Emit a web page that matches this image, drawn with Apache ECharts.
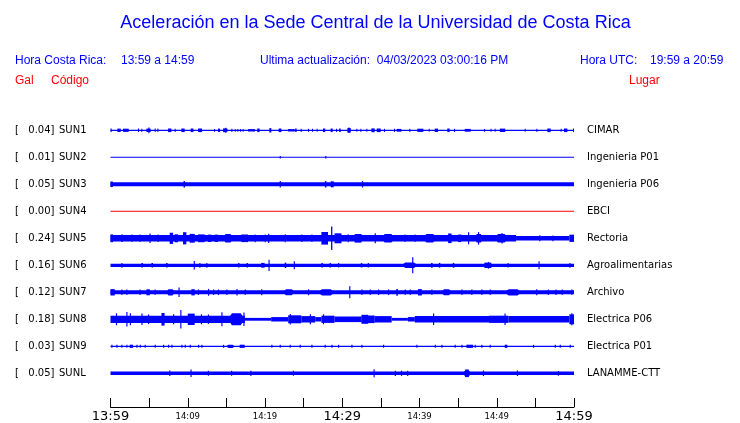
<!DOCTYPE html>
<html>
<head>
<meta charset="utf-8">
<script src="https://cdn.jsdelivr.net/npm/echarts@6/dist/echarts.min.js"></script>
<style>html,body{margin:0;padding:0;background:#fff}#c{width:740px;height:423px}</style>
</head>
<body>
<div id="c"></div>
<script>
// ---------------- data ----------------
const codes = ['SUN1','SUN2','SUN3','SUN4','SUN5','SUN6','SUN7','SUN8','SUN9','SUNL'];
const gals = ['0.04','0.01','0.05','0.00','0.24','0.16','0.12','0.18','0.03','0.05'];
const places = ['CIMAR','Ingenieria P01','Ingenieria P06','EBCI','Rectoria','Agroalimentarias','Archivo','Electrica P06','Electrica P01','LANAMME-CTT'];
const tickLabels = ['13:59','','14:09','','14:19','','14:29','','14:39','','14:49','','14:59'];
const titleText = 'Aceleración en la Sede Central de la Universidad de Costa Rica';
const headerLocal = ['Hora Costa Rica:', '13:59 a 14:59'];
const headerUpdate = 'Ultima actualización:  04/03/2023 03:00:16 PM';
const headerUtc = ['Hora UTC:', '19:59 a 20:59'];

// background noise band of each trace: [startMinute, endMinute, halfAmplitude]
const sun1Band = [[0,60,0.6]];
const sun2Band = [[0,60,0.5]];
const sun3Band = [[0,60,2.0]];
const sun4Band = [[0,60,0.5]];
const sun5Band = [[0,52.5,3.2],[52.5,59.4,2.3],[59.4,60,3.6]];
const sun6Band = [[0,60,1.6]];
const sun7Band = [[0,60,2.0]];
const sun8Band = [[0,17.4,3.6],[17.4,20.8,1.4],[20.8,23.0,2.2],[23.0,24.7,4.0],[24.7,26.5,3.2],[26.5,27.3,2.2],[27.3,29.0,3.6],[29.0,32.5,2.8],[32.5,34.2,3.8],[34.2,36.4,3.2],[36.4,38.5,1.4],[38.5,39.4,2.2],[39.4,49.0,3.2],[49.0,51.5,3.6],[51.5,59.4,3.2],[59.4,60,5.0]];
const sun9Band = [[0,60,0.6]];
const sunLBand = [[0,60,1.8]];

// bursts / spikes on top of the band: [startMinute, endMinute, halfAmplitude]
const sun1Bursts = [[0,0.15,1.8],[0.89,1.32,1.7],[1.62,2.36,1.6],[3.56,3.7,1.8],[3.99,4.12,1.6],[4.64,5.2,1.7],[4.9,5.05,2.9],[5.72,5.85,1.8],[6.07,6.2,1.8],[7.45,7.88,1.8],[8.3,8.43,1.6],[9.17,9.6,1.8],[10.38,10.73,1.8],[11.33,11.85,1.8],[13.4,13.53,1.4],[13.92,14.18,1.7],[14.57,15.13,1.9],[14.85,14.98,2.5],[15.65,15.78,1.6],[16.08,16.2,1.4],[16.42,16.55,1.4],[16.77,16.9,1.4],[17.11,17.24,1.4],[17.8,18.7,1.2],[19.0,19.3,1.8],[20.56,20.82,2.2],[21.77,22.12,1.8],[22.98,23.84,1.2],[23.9,24.1,1.7],[24.62,24.75,1.6],[25.56,25.7,1.5],[26.08,26.2,1.5],[26.69,26.82,1.5],[27.5,27.8,1.8],[28.5,28.76,1.8],[29.2,29.33,1.6],[29.6,29.8,1.7],[30.66,31.1,2.3],[30.8,30.95,2.8],[31.83,31.96,1.5],[32.35,32.48,1.6],[33.12,33.25,1.5],[33.77,34.2,1.9],[34.46,34.98,1.8],[35.4,35.53,1.6],[36.7,36.83,1.6],[37.05,37.65,1.4],[38.68,38.8,1.6],[39.72,40.5,1.6],[41.19,41.32,1.5],[41.97,42.4,1.7],[43.6,43.9,1.8],[44.47,44.6,1.6],[45.85,46.63,1.4],[48.35,48.48,1.4],[49.2,49.33,1.5],[49.73,49.86,1.5],[50.4,51.1,1.7],[53.62,53.75,1.5],[55.13,55.26,1.6],[56.55,56.98,1.8],[58.27,58.4,1.5],[58.7,59.14,1.8],[59.87,60,1.7]];
const sun2Bursts = [[21.9,22.05,1.2],[27.8,27.95,1.2]];
const sun3Bursts = [[0,0.3,2.8],[9.45,9.65,3.2],[21.9,22.05,3.2],[27.75,27.95,3.2],[28.5,28.9,3.0],[32.55,32.7,3.2]];
const sun4Bursts = [];
const sun5Bursts = [[0,0.33,3.9],[1.4,1.6,3.7],[2.7,2.85,3.7],[3.75,3.9,3.7],[5.05,5.2,4.8],[6.1,6.25,3.7],[7.66,8.1,5.6],[8.3,8.74,4.0],[9.39,9.82,6.1],[10.25,10.9,4.4],[11.33,12.2,3.9],[12.62,13.05,3.7],[13.5,13.92,3.7],[14.56,15.86,4.2],[16.94,17.8,3.8],[18.66,18.8,3.9],[19.96,20.1,3.9],[20.4,20.55,4.6],[22.55,22.7,4.0],[24.7,24.85,3.8],[26.0,26.15,3.8],[27.3,28.16,6.3],[28.55,28.72,11.7],[29.0,29.9,5.0],[30.7,30.85,4.0],[31.6,32.5,4.3],[34.2,34.35,5.0],[35.06,36.8,4.2],[38.06,38.2,3.8],[39.37,39.5,3.8],[40.45,42.2,4.2],[43.7,44.15,4.8],[45.0,45.4,3.8],[46.28,46.43,6.0],[47.14,48.2,4.3],[47.57,47.72,6.3],[49.73,51.45,4.2],[50.6,50.75,5.3],[55.5,55.65,3.0],[57.2,57.35,2.9]];
const sun6Bursts = [[1.4,1.55,2.4],[4.0,4.2,2.2],[5.3,5.5,2.2],[7.2,7.4,2.2],[10.77,10.92,4.3],[11.5,11.65,2.4],[12.4,12.55,2.4],[16.5,16.7,2.2],[17.6,17.8,2.2],[19.5,19.95,2.4],[20.45,20.6,5.6],[22.55,22.75,2.7],[23.72,23.87,4.0],[27.3,27.5,2.2],[28.35,28.55,2.2],[29.45,29.6,2.2],[32.4,32.6,2.2],[33.3,33.45,2.2],[37.65,39.8,2.8],[39.05,39.2,8.0],[41.5,41.7,2.4],[42.5,42.7,2.4],[44.3,44.5,2.4],[48.4,49.3,2.7],[48.85,49.0,3.4],[51.4,51.55,2.2],[55.4,55.55,4.0],[59.4,59.55,2.4]];
const sun7Bursts = [[0,0.55,3.2],[1.4,1.55,2.8],[2.05,2.2,2.8],[3.75,3.9,2.8],[4.65,5.1,3.0],[5.7,5.85,2.8],[7.23,8.3,3.1],[8.8,8.95,4.8],[10.47,10.9,3.1],[11.3,11.45,2.8],[12.62,12.77,3.4],[13.27,13.42,2.8],[13.9,14.05,2.8],[14.99,15.14,2.8],[16.3,16.45,3.2],[17.37,17.52,2.8],[19.5,19.65,3.0],[22.33,23.84,3.0],[25.56,25.71,3.0],[26.86,29.02,3.1],[30.9,31.05,6.0],[32.47,32.62,2.8],[33.55,33.7,2.8],[34.63,34.78,2.8],[35.92,36.07,2.8],[37.0,37.2,3.4],[38.08,38.23,2.8],[38.73,38.88,2.8],[39.8,40.3,3.2],[41.53,41.68,2.8],[42.83,44.16,3.0],[45.42,45.57,2.8],[46.7,46.85,2.8],[48.0,48.15,2.8],[49.08,49.23,2.8],[51.03,53.2,3.1],[55.1,55.25,3.0],[56.6,56.75,2.8],[57.6,57.75,2.8],[58.4,58.55,2.8],[59.65,59.8,2.8]];
const sun8Bursts = [[0.7,0.85,6.0],[2.05,2.2,7.3],[2.5,2.65,6.0],[4.0,4.15,5.7],[4.85,5.0,4.8],[6.6,7.0,6.3],[8.1,8.25,5.0],[9.03,9.18,9.3],[10.0,10.9,5.7],[11.7,11.85,5.0],[12.6,12.75,4.8],[14.35,14.5,7.0],[15.2,17.37,6.0],[17.2,17.35,6.7],[23.2,23.35,5.3],[25.8,25.95,5.0],[27.5,27.65,5.0],[32.5,33.35,4.5],[41.75,41.9,5.7],[51.0,51.15,5.7],[59.65,59.8,6.0]];
const sun9Bursts = [[0.11,0.26,1.5],[0.76,0.91,1.5],[1.4,1.55,1.5],[2.05,2.2,1.5],[2.48,2.92,1.6],[3.35,3.5,1.5],[3.78,3.93,1.5],[4.42,4.57,1.5],[5.72,5.87,1.5],[6.8,6.95,1.5],[7.45,7.6,1.5],[7.88,8.03,1.5],[9.17,9.32,1.5],[9.6,9.75,1.5],[10.25,10.4,1.5],[11.33,11.48,1.5],[11.76,11.91,1.5],[14.56,14.71,1.5],[14.99,16.08,1.6],[16.72,17.37,1.6],[20.82,20.97,1.5],[21.9,22.05,1.5],[23.19,23.34,1.5],[24.49,24.64,1.5],[26.0,26.15,1.5],[27.72,27.87,1.5],[28.59,28.74,1.5],[29.45,29.6,1.5],[31.18,31.33,1.5],[32.47,32.62,1.5],[35.28,35.43,1.5],[39.59,39.74,1.5],[41.97,42.12,1.5],[42.83,42.98,1.5],[44.55,44.7,1.5],[45.42,45.57,1.5],[46.07,46.93,1.6],[47.14,47.29,1.5],[48.0,48.15,1.5],[49.08,49.23,1.5],[51.03,51.37,1.6],[54.69,54.84,1.5],[57.5,57.65,1.5],[58.15,58.3,1.5],[59.44,59.59,1.5]];
const sunLBursts = [[7.6,7.75,2.8],[10.35,10.5,3.8],[12.6,12.75,2.5],[15.6,15.75,2.5],[18.1,18.25,2.6],[23.6,23.75,2.5],[34.05,34.2,4.0],[36.8,36.95,2.6],[37.6,37.75,2.6],[38.4,38.55,2.6],[45.6,46.7,2.6],[45.9,46.4,3.8],[48.2,48.35,2.8],[52.6,52.75,2.7],[57.9,58.05,2.4]];

const bands = [sun1Band, sun2Band, sun3Band, sun4Band, sun5Band, sun6Band, sun7Band, sun8Band, sun9Band, sunLBand];
const bursts = [sun1Bursts, sun2Bursts, sun3Bursts, sun4Bursts, sun5Bursts, sun6Bursts, sun7Bursts, sun8Bursts, sun9Bursts, sunLBursts];

// ---------------- layout / style ----------------
const BLUE = '#0000ff', RED = '#ff0000';
const traceColors = [BLUE, BLUE, BLUE, RED, BLUE, BLUE, BLUE, BLUE, BLUE, BLUE];
const PLOT_LEFT = 110.5, PLOT_RIGHT = 166, ROW0 = 130.3, ROW_STEP = 27, ROW_H = 27;
const bigTicks = [0, 6, 12];

function makeRender(color, taper) {
  return function (params, api) {
    const t0 = api.value(0), t1 = api.value(1), a = api.value(2);
    const top0 = api.coord([t0, a]);
    const bot1 = api.coord([t1, -a]);
    const mid = api.coord([t0, 0]);
    const w = bot1[0] - top0[0];
    if (!taper || t1 - t0 <= 1) {
      return {
        type: 'rect',
        shape: {x: top0[0], y: top0[1], width: Math.max(w, 1), height: Math.max(bot1[1] - top0[1], 1)},
        style: {fill: color}
      };
    }
    const x0 = top0[0], x1 = bot1[0], yT = top0[1], yB = bot1[1], yM = mid[1];
    const e = Math.min(w * 0.25, 4);
    return {
      type: 'polygon',
      shape: {points: [[x0, yM], [x0 + e, yT], [x1 - e, yT], [x1, yM], [x1 - e, yB], [x0 + e, yB]]},
      style: {fill: color}
    };
  };
}

const grids = [], xAxes = [], yAxes = [], series = [], graphics = [];
const LF = '10px "DejaVu Sans"';
codes.forEach((code, i) => {
  const cy = ROW0 + ROW_STEP * i;
  grids.push({left: PLOT_LEFT, right: PLOT_RIGHT, top: cy - ROW_H / 2, height: ROW_H});
  xAxes.push({type: 'value', gridIndex: i, min: 0, max: 60, show: false});
  yAxes.push({type: 'value', gridIndex: i, min: -ROW_H / 2, max: ROW_H / 2, show: false});
  series.push({type: 'custom', xAxisIndex: i, yAxisIndex: i, data: bands[i], silent: true,
    encode: {x: [0, 1], y: 2}, renderItem: makeRender(traceColors[i], false)});
  series.push({type: 'custom', xAxisIndex: i, yAxisIndex: i, data: bursts[i], silent: true,
    encode: {x: [0, 1], y: 2}, renderItem: makeRender(traceColors[i], true)});
  graphics.push({type: 'text', x: 15, y: cy, style: {text: '[', font: LF, fill: '#000', verticalAlign: 'middle', textVerticalAlign: 'middle'}});
  graphics.push({type: 'text', x: 54.5, y: cy, style: {text: gals[i] + ']', font: LF, fill: '#000', align: 'right', textAlign: 'right', verticalAlign: 'middle', textVerticalAlign: 'middle'}});
  graphics.push({type: 'text', x: 59, y: cy, style: {text: code, font: LF, fill: '#000', verticalAlign: 'middle', textVerticalAlign: 'middle'}});
  graphics.push({type: 'text', x: 587, y: cy, style: {text: places[i], font: LF, fill: '#000', verticalAlign: 'middle', textVerticalAlign: 'middle'}});
});

// bottom time axis
const AX = codes.length;
grids.push({left: PLOT_LEFT, right: PLOT_RIGHT, top: 399, height: 10});
xAxes.push({
  type: 'value', gridIndex: AX, min: 0, max: 60, interval: 5, position: 'bottom',
  splitLine: {show: false},
  axisLine: {show: true, onZero: false, lineStyle: {color: '#000', width: 1}},
  axisTick: {show: true, inside: true, length: 9, lineStyle: {color: '#000', width: 1}},
  axisLabel: {
    show: true, margin: 3, showMinLabel: true, showMaxLabel: true, interval: 0,
    formatter: function (v) {
      const k = Math.round(v / 5);
      const t = tickLabels[k];
      if (!t) return '';
      return bigTicks.indexOf(k) >= 0 ? '{b|' + t + '}' : '{s|' + t + '}';
    },
    rich: {
      b: {fontFamily: 'DejaVu Sans', fontSize: 13, color: '#000', lineHeight: 13},
      s: {fontFamily: 'DejaVu Sans', fontSize: 8.5, color: '#000', lineHeight: 13}
    }
  }
});
yAxes.push({type: 'value', gridIndex: AX, show: false, min: 0, max: 1});

// header texts
const HF = '12px "Liberation Sans", Arial, sans-serif';
function hText(x, y, text, fill) {
  return {type: 'text', x: x, y: y, style: {text: text, font: HF, fill: fill, verticalAlign: 'middle', textVerticalAlign: 'middle'}};
}
graphics.push({type: 'text', x: 375.5, y: 23, style: {text: titleText, font: '18px "Liberation Sans", Arial, sans-serif', fill: BLUE, align: 'center', textAlign: 'center', verticalAlign: 'middle', textVerticalAlign: 'middle'}});
graphics.push(hText(15, 60.5, headerLocal[0], BLUE));
graphics.push(hText(121, 60.5, headerLocal[1], BLUE));
graphics.push(hText(260, 60.5, headerUpdate, BLUE));
graphics.push(hText(580, 60.5, headerUtc[0], BLUE));
graphics.push(hText(650, 60.5, headerUtc[1], BLUE));
graphics.push(hText(15, 80.5, 'Gal', RED));
graphics.push(hText(51, 80.5, 'Código', RED));
graphics.push(hText(629, 80.5, 'Lugar', RED));

const chart = echarts.init(document.getElementById('c'), null, {renderer: 'canvas'});
chart.setOption({
  animation: false,
  backgroundColor: '#fff',
  grid: grids, xAxis: xAxes, yAxis: yAxes, series: series,
  graphic: {elements: graphics}
});
</script>
</body>
</html>
